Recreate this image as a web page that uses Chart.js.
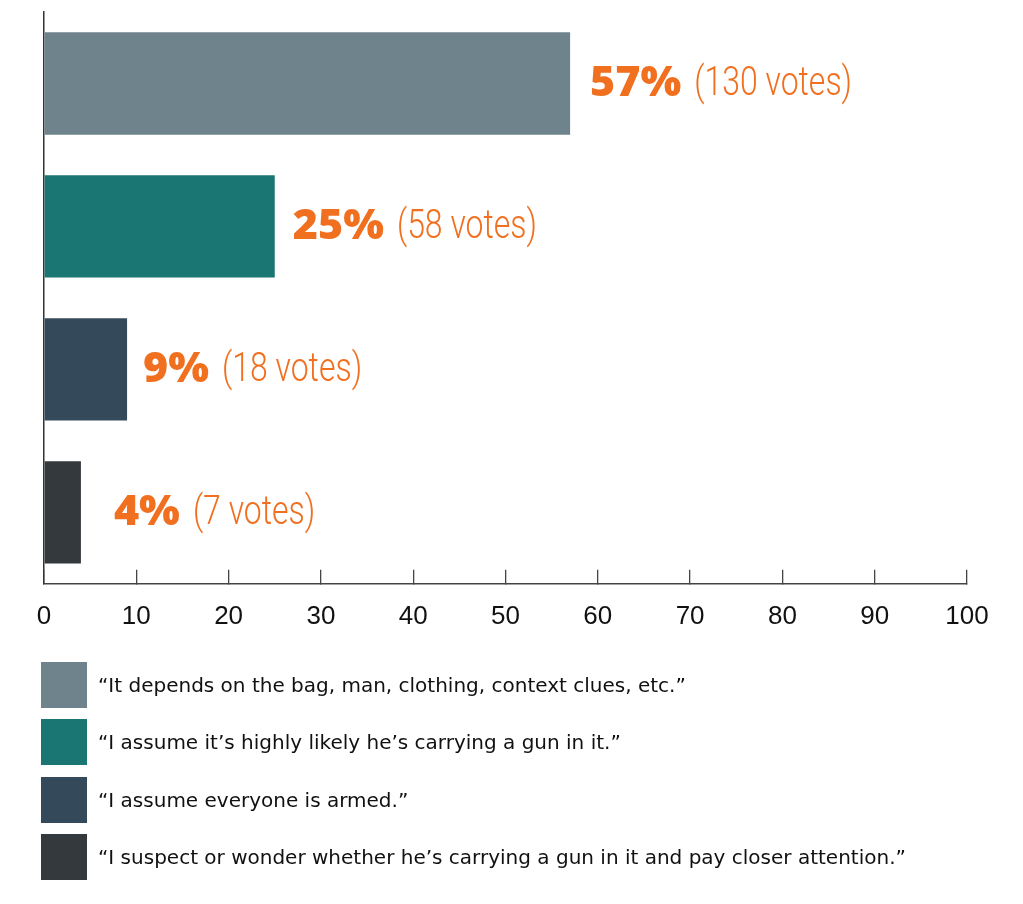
<!DOCTYPE html>
<html>
<head>
<meta charset="utf-8">
<script src="https://cdn.jsdelivr.net/npm/chart.js@4/dist/chart.umd.min.js"></script>
<style>
  html, body { margin: 0; padding: 0; background: #fff; }
  #wrap { position: absolute; left: 0; top: 0; width: 1023px; height: 677px; }
  #legend { position: absolute; left: 41px; top: 662px; }
  .item { display: flex; align-items: center; height: 46px; margin-bottom: 11.3px; }
  .swatch { width: 46px; height: 46px; margin-right: 11px; }
  .txt { font-family: "DejaVu Sans", sans-serif; font-size: 20px; color: #111; white-space: nowrap; }
</style>
</head>
<body>
<div id="wrap"><canvas id="chart"></canvas></div>
<div id="legend"></div>
<script>
const answers = [
  "\u201cIt depends on the bag, man, clothing, context clues, etc.\u201d",
  "\u201cI assume it\u2019s highly likely he\u2019s carrying a gun in it.\u201d",
  "\u201cI assume everyone is armed.\u201d",
  "\u201cI suspect or wonder whether he\u2019s carrying a gun in it and pay closer attention.\u201d"
];
const percents = [57, 25, 9, 4];
const votes = [130, 58, 18, 7];
const barColors = ["#6e838b", "#1a7673", "#344a5a", "#33393c"];
const xTicks = [0, 10, 20, 30, 40, 50, 60, 70, 80, 90, 100];

const orange = "#f07020";
const labelGap = [20, 18, 16, 33];

// percent + votes text right of each bar
const valueLabels = {
  id: "valueLabels",
  afterDatasetsDraw(chart) {
    const ctx = chart.ctx;
    const meta = chart.getDatasetMeta(0);
    ctx.save();
    ctx.fillStyle = orange;
    ctx.textBaseline = "middle";
    meta.data.forEach((bar, i) => {
      let x = bar.x + labelGap[i];
      const y = bar.y;
      const pct = percents[i] + "%";
      ctx.font = "800 43px 'Open Sans', sans-serif";
      ctx.fillText(pct, x, y);
      x += ctx.measureText(pct).width + 13;
      // condensed look: squeeze a light face horizontally
      ctx.save();
      ctx.translate(x, y + 1);
      ctx.scale(0.78, 1);
      ctx.font = "300 41px Roboto, 'Liberation Sans', sans-serif";
      ctx.fillText("(" + votes[i] + " votes)", 0, 0);
      ctx.restore();
    });
    ctx.restore();
  }
};

new Chart(document.getElementById("chart"), {
  type: "bar",
  data: {
    labels: answers,
    datasets: [
      {
        data: percents,
        backgroundColor: barColors,
        barPercentage: 0.716,
        categoryPercentage: 1
      }
    ]
  },
  options: {
    indexAxis: "y",
    responsive: true,
    maintainAspectRatio: false,
    animation: false,
    layout: { padding: { left: 36, right: 56, top: 12, bottom: 14 } },
    plugins: {
      legend: { display: false },
      tooltip: { enabled: false }
    },
    scales: {
      x: {
        min: xTicks[0],
        max: xTicks[xTicks.length - 1],
        afterBuildTicks(scale) {
          scale.ticks = xTicks.map((v) => ({ value: v }));
        },
        grid: {
          drawOnChartArea: false,
          drawTicks: true,
          tickLength: -14,
          color: "#444",
          lineWidth: 1.3
        },
        border: { display: true, color: "#444", width: 1.5 },
        ticks: {
          padding: 31,
          color: "#111",
          font: { family: "'Liberation Sans', Arial, sans-serif", size: 26 }
        }
      },
      y: {
        grid: { display: false },
        border: { display: true, color: "#333", width: 1.5 },
        ticks: { display: false }
      }
    }
  },
  plugins: [valueLabels]
});

// legend below the chart
const legend = document.getElementById("legend");
answers.forEach((text, i) => {
  const item = document.createElement("div");
  item.className = "item";
  const sw = document.createElement("div");
  sw.className = "swatch";
  sw.style.background = barColors[i];
  const t = document.createElement("span");
  t.className = "txt";
  t.textContent = text;
  item.appendChild(sw);
  item.appendChild(t);
  legend.appendChild(item);
});
</script>
</body>
</html>
